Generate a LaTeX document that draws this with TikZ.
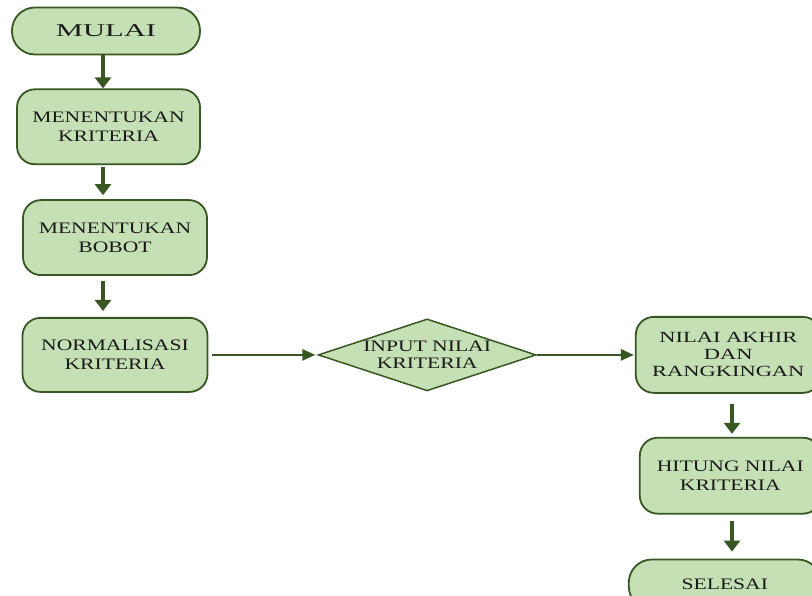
\documentclass[tikz,border=0pt]{standalone}
\usepackage{fontspec}
\setmainfont[FakeStretch=1.35]{Liberation Serif}
\newfontfamily\startfont[FakeStretch=1.7]{Liberation Serif}
\newfontfamily\widefont[FakeStretch=1.45]{Liberation Serif}
\usepackage{tikz}
\usetikzlibrary{arrows.meta,positioning,shapes.geometric}
\usepackage{xcolor}
\definecolor{leafgreen}{RGB}{197,224,180}
\definecolor{forest}{RGB}{56,87,35}
\definecolor{inkblack}{RGB}{25,25,25}

\begin{document}
\begin{tikzpicture}[x=1pt, y=1pt,
  font=\fontsize{16}{19.5}\selectfont,
  box/.style={draw=forest, fill=leafgreen, rounded corners=18pt, align=center,
              minimum height=75pt, inner sep=2pt, line width=1.8pt, text=inkblack},
  pill/.style={box, rounded corners=23pt, minimum height=47pt},
  dec/.style={diamond, shape aspect=3, draw=forest, fill=leafgreen, align=center, inner sep=0pt,
              minimum width=218pt, minimum height=72pt, line width=1.5pt, text=inkblack},
  arrv/.style={-{Triangle[length=11pt, width=16pt]}, line width=4.5pt, color=forest},
  arrh/.style={-{Triangle[length=13pt, width=11pt]}, line width=2.5pt, color=forest}]
\useasboundingbox (0,0) rectangle (812,-596);
\clip (0,0) rectangle (812,-596);
% left column
\node[pill, minimum width=188pt, font=\startfont\fontsize{18}{20}\selectfont] (mulai) at (106,-31) {MULAI};
\node[box, minimum width=183pt, below=33pt of mulai, xshift=2.5pt] (kriteria) {MENENTUKAN\\KRITERIA};
\node[box, minimum width=184pt, below=34pt of kriteria, xshift=6.5pt] (bobot) {MENENTUKAN\\BOBOT};
\node[box, minimum width=185pt, minimum height=74pt, below=41pt of bobot] (normal) {NORMALISASI\\KRITERIA};
% middle and right column
\node[dec, right=109pt of normal, font=\fontsize{16}{16.5}\selectfont] (input) {INPUT NILAI\\KRITERIA};
\node[box, minimum width=185pt, minimum height=76pt, right=98pt of input,
      font=\widefont\fontsize{15.5}{17}\selectfont] (akhir) {NILAI AKHIR\\DAN\\RANGKINGAN};
\node[box, minimum width=181pt, minimum height=76pt, below=43pt of akhir, xshift=2pt] (hitung) {HITUNG NILAI\\KRITERIA};
\node[pill, minimum width=192pt, minimum height=50pt, below=44pt of hitung, xshift=-5.5pt] (selesai) {SELESAI};
% arrows
\coordinate (lx) at (103,0);
\coordinate (rx) at (732,0);
\draw[arrv] (mulai.south -| lx) -- (kriteria.north -| lx);
\draw[arrv, shorten <=2pt, shorten >=4pt] (kriteria.south -| lx) -- (bobot.north -| lx);
\draw[arrv, shorten <=5pt, shorten >=6pt] (bobot.south -| lx) -- (normal.north -| lx);
\draw[arrh, shorten <=4pt, shorten >=2pt] (normal) -- (input);
\draw[arrh, shorten >=1pt] (input.east) -- (input.east -| akhir.west);
\draw[arrv, shorten <=10pt, shorten >=3pt] (akhir.south -| rx) -- (hitung.north -| rx);
\draw[arrv, shorten <=6pt, shorten >=7pt] (hitung.south -| rx) -- (selesai.north -| rx);
\end{tikzpicture}
\end{document}
